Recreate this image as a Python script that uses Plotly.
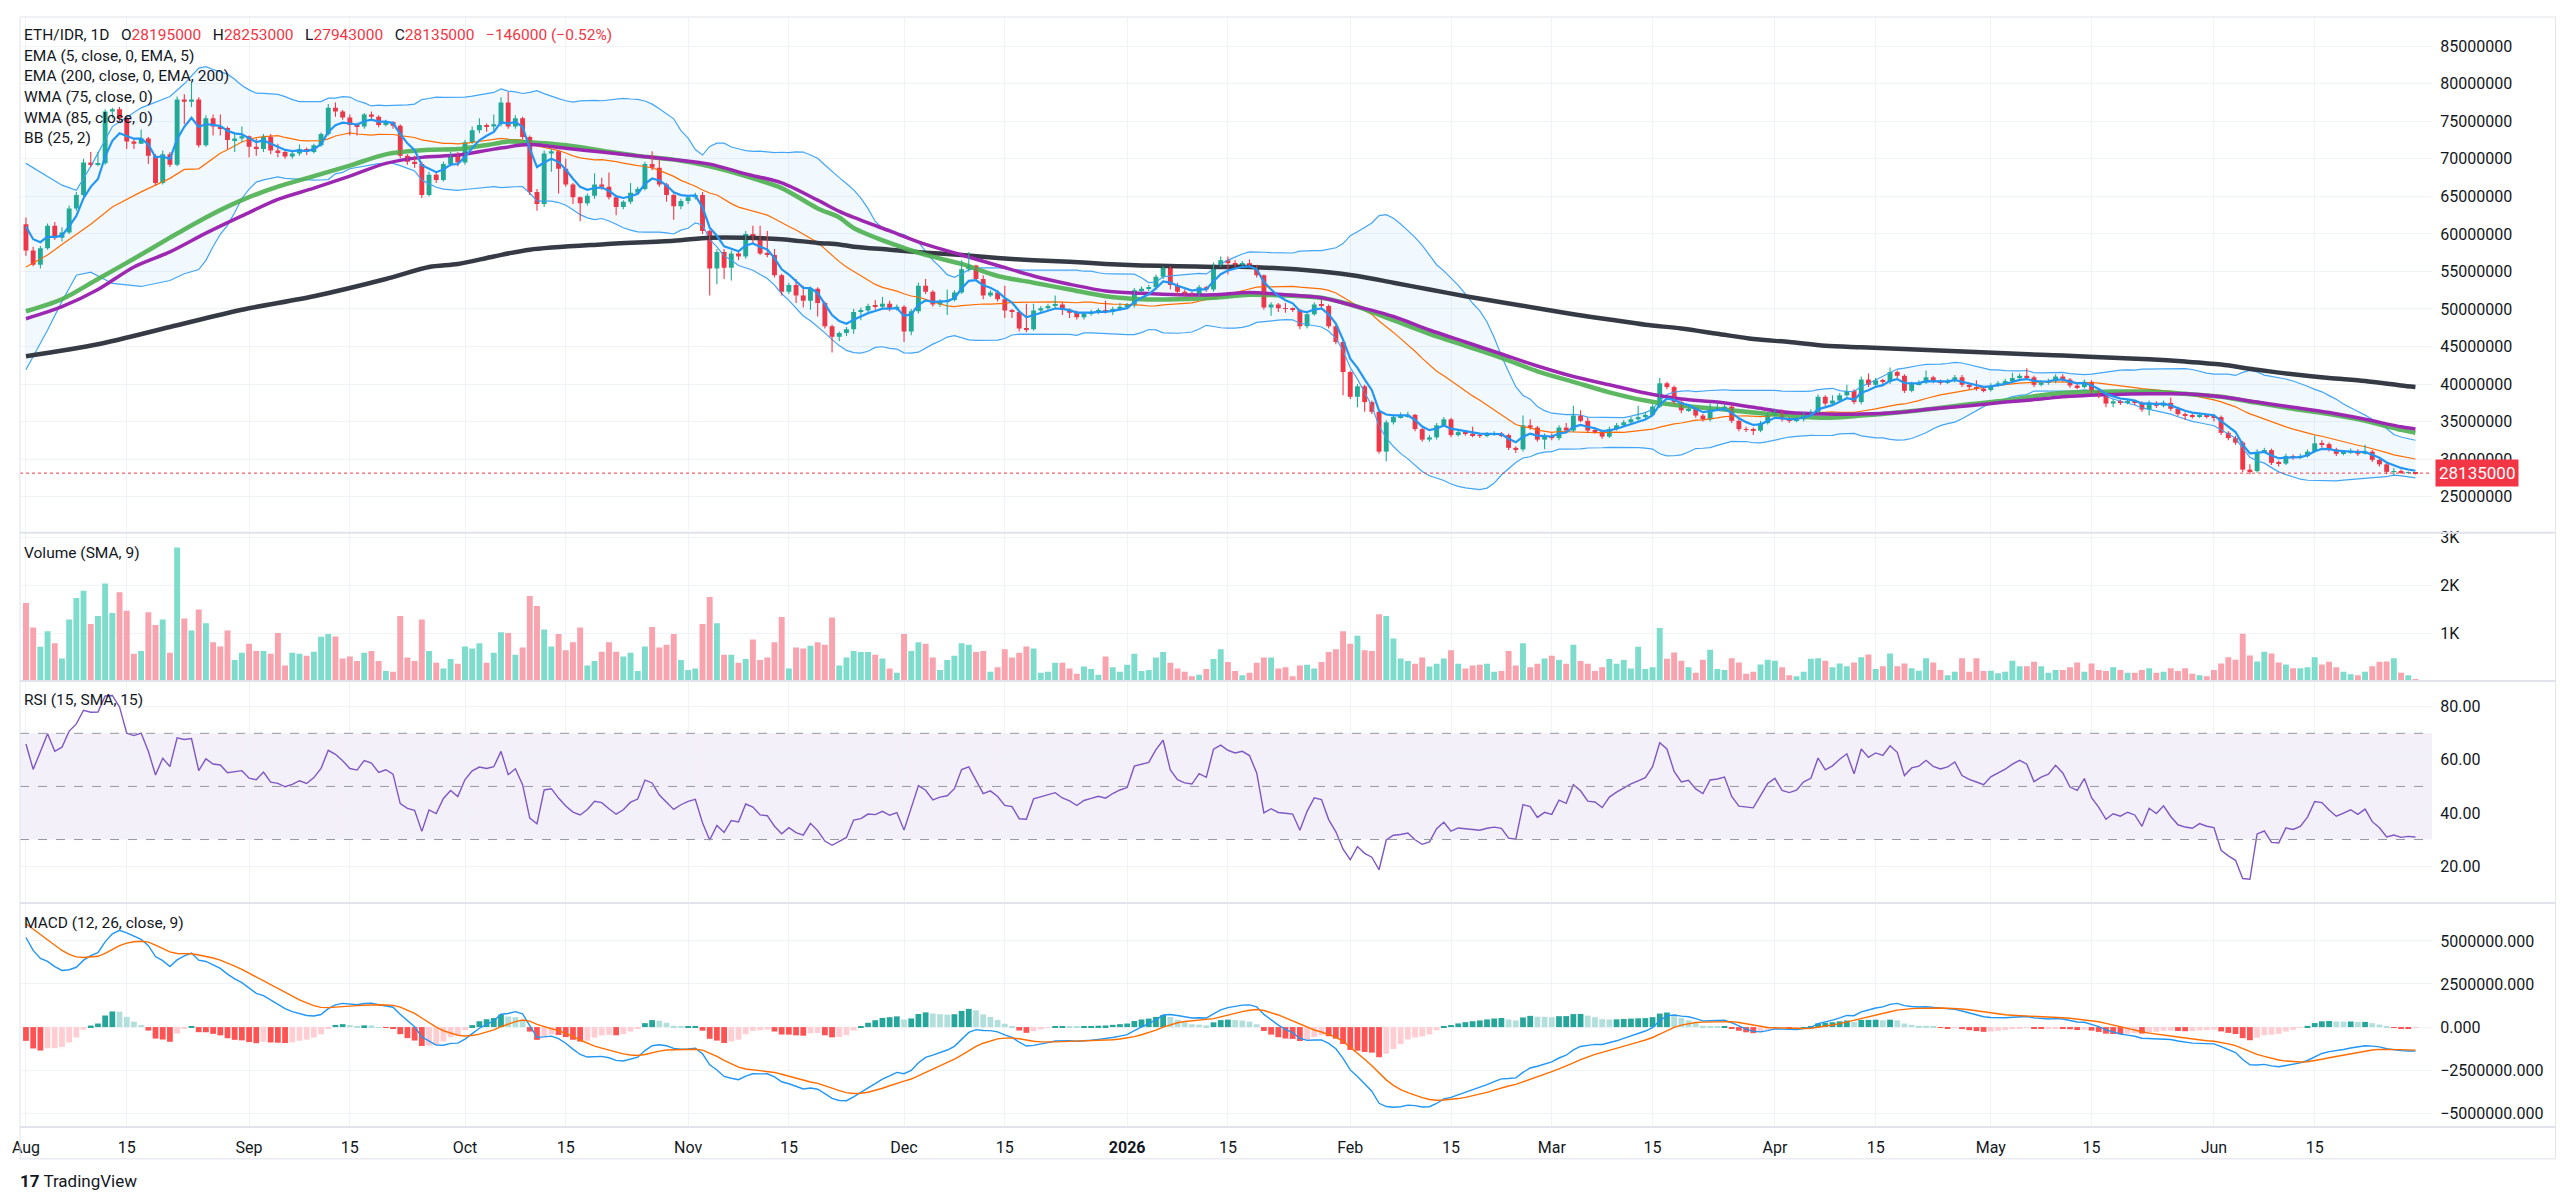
import numpy as np
import pandas as pd
import plotly.graph_objects as go
from plotly.subplots import make_subplots

# ---------------- data (prices in millions of IDR) ----------------
START_DATE = "2025-08-01"
OPEN0_M = 61.3

CLOSE_M = [
    57.8, 55.9, 58.1, 61.1, 59.5, 60.2, 63.4, 65.2, 69.5, 69.3,
    69.4, 76.3, 76.6, 75.4, 72.3, 72.0, 72.7, 70.4, 66.8, 70.6,
    69.2, 77.9, 77.6, 77.9, 71.8, 75.4, 74.3, 74.1, 72.5, 72.7,
    73.0, 71.6, 71.3, 72.9, 71.1, 70.9, 70.3, 70.7, 71.3, 70.9,
    71.8, 73.3, 76.8, 76.3, 75.5, 74.5, 74.3, 75.9, 75.6, 74.5,
    74.9, 74.4, 70.4, 69.6, 69.3, 65.2, 67.9, 67.2, 69.3, 70.5,
    69.5, 72.2, 73.8, 74.5, 74.3, 74.6, 77.5, 74.3, 75.4, 72.9,
    65.6, 64.0, 70.7, 71.0, 68.7, 66.6, 64.9, 64.1, 65.1, 66.6,
    66.3, 64.9, 63.6, 64.3, 65.5, 66.0, 69.3, 68.8, 66.6, 65.2,
    63.7, 64.4, 64.9, 65.2, 60.4, 55.4, 57.6, 55.5, 57.4, 57.0,
    60.0, 59.3, 57.4, 57.2, 54.5, 52.3, 53.2, 51.8, 51.1, 52.7,
    50.8, 47.7, 46.3, 46.8, 47.3, 49.6, 49.8, 50.4, 50.3, 50.7,
    50.0, 50.3, 47.0, 49.7, 53.1, 52.3, 50.6, 51.0, 51.2, 52.2,
    55.3, 55.8, 54.0, 51.8, 52.2, 51.3, 49.8, 49.6, 47.4, 47.3,
    49.8, 50.1, 50.4, 50.6, 49.9, 49.5, 48.9, 49.4, 49.6, 49.8,
    49.6, 50.0, 50.3, 50.5, 52.5, 52.7, 52.9, 54.3, 55.5, 53.2,
    52.3, 52.0, 51.9, 52.9, 52.6, 55.9, 56.5, 56.1, 55.9, 56.1,
    55.8, 54.5, 50.2, 50.6, 50.1, 50.0, 49.9, 47.7, 49.3, 50.6,
    50.4, 47.7, 45.6, 41.6, 38.3, 39.7, 37.6, 36.3, 31.0, 34.9,
    35.6, 35.7, 35.9, 34.0, 32.6, 32.9, 34.5, 35.3, 33.2, 33.6,
    33.4, 33.2, 33.1, 33.3, 33.4, 33.2, 31.5, 31.3, 34.5, 34.2,
    32.6, 33.1, 32.8, 34.2, 33.8, 35.8, 35.1, 33.8, 33.7, 33.0,
    34.0, 34.5, 34.9, 35.3, 35.6, 35.9, 37.0, 40.1, 39.6, 37.6,
    36.5, 36.7, 35.8, 35.3, 36.7, 36.8, 37.0, 35.1, 34.0, 33.9,
    33.8, 34.8, 35.9, 36.4, 35.3, 35.1, 35.3, 36.0, 36.3, 38.3,
    37.4, 37.8, 38.5, 39.1, 37.6, 40.6, 39.9, 40.5, 40.3, 41.6,
    41.1, 39.1, 40.0, 40.2, 40.9, 40.4, 40.2, 40.4, 40.9, 39.9,
    39.6, 39.4, 39.2, 39.8, 40.1, 40.4, 40.8, 41.1, 40.9, 39.9,
    40.2, 40.4, 41.0, 40.6, 39.8, 39.6, 40.3, 39.1, 38.4, 37.4,
    37.7, 37.5, 37.7, 37.5, 36.6, 37.5, 37.1, 37.5, 36.7, 36.0,
    35.8, 35.7, 35.9, 35.7, 35.6, 33.5, 32.8, 32.2, 28.6, 28.4,
    31.0, 31.2, 29.5, 29.4, 30.4, 30.2, 30.4, 31.0, 32.1, 32.0,
    31.3, 30.7, 30.9, 31.1, 30.7, 31.0, 29.9, 29.3, 28.3, 28.4,
    28.15, 28.195, 28.135,
]

HIGH_M = [
    62.2, 58.3, 58.4, 61.4, 61.6, 60.9, 63.8, 65.6, 70.0, 70.9,
    70.9, 76.6, 76.8, 76.9, 75.6, 72.7, 73.9, 72.9, 70.6, 71.1,
    70.9, 78.3, 78.6, 80.2, 78.2, 75.8, 75.9, 75.9, 74.3, 73.3,
    74.3, 73.1, 72.7, 73.3, 73.3, 72.0, 71.1, 70.9, 71.9, 71.5,
    72.0, 73.5, 77.3, 77.5, 76.5, 75.9, 74.8, 76.1, 76.3, 75.8,
    75.2, 75.0, 74.6, 70.6, 70.4, 69.6, 68.3, 68.3, 69.6, 70.9,
    70.9, 72.5, 74.3, 75.4, 74.7, 75.9, 78.2, 78.9, 75.8, 75.6,
    73.1, 66.0, 71.1, 71.3, 71.1, 70.0, 66.8, 65.0, 65.4, 68.1,
    67.5, 68.2, 64.9, 64.5, 66.8, 66.3, 69.6, 71.0, 69.8, 66.8,
    65.4, 64.7, 65.2, 65.5, 65.6, 60.6, 58.0, 58.0, 57.8, 57.8,
    60.4, 61.1, 61.1, 60.4, 58.0, 54.7, 53.5, 54.0, 53.1, 53.0,
    52.9, 51.0, 47.9, 47.0, 47.6, 50.0, 50.2, 50.7, 51.2, 51.6,
    51.1, 50.6, 50.5, 50.0, 53.5, 54.0, 52.5, 51.3, 52.6, 52.5,
    56.5, 57.6, 55.9, 54.5, 52.5, 52.5, 53.1, 50.0, 49.8, 50.7,
    50.7, 50.4, 50.7, 51.8, 50.9, 50.1, 49.8, 49.6, 49.9, 50.1,
    51.1, 50.3, 50.8, 50.8, 52.8, 53.0, 53.2, 54.6, 55.7, 55.7,
    53.5, 52.6, 52.3, 53.2, 53.1, 56.2, 57.0, 57.0, 56.5, 56.4,
    56.6, 55.9, 54.6, 50.9, 50.8, 50.8, 50.2, 50.0, 49.6, 50.9,
    51.2, 50.6, 47.9, 45.8, 41.8, 40.0, 39.9, 37.8, 36.5, 35.2,
    35.9, 36.2, 36.3, 36.0, 34.2, 33.2, 34.8, 35.6, 35.5, 33.9,
    33.8, 34.3, 33.4, 33.6, 33.7, 33.6, 33.4, 31.7, 35.8, 35.3,
    34.4, 33.4, 33.4, 34.5, 34.8, 37.1, 36.5, 35.5, 34.0, 33.9,
    34.3, 34.8, 35.2, 35.6, 37.1, 36.3, 37.3, 40.8, 40.3, 39.8,
    37.8, 37.0, 36.9, 36.0, 37.4, 37.4, 37.3, 37.2, 35.3, 34.3,
    34.2, 35.1, 36.2, 36.7, 36.6, 35.6, 35.6, 36.3, 36.6, 38.6,
    38.5, 38.5, 38.8, 39.9, 39.3, 41.0, 41.4, 40.8, 40.7, 42.2,
    41.8, 41.3, 40.3, 40.5, 41.8, 41.1, 40.6, 40.7, 41.2, 41.2,
    40.1, 40.5, 39.6, 40.1, 40.4, 40.7, 41.5, 41.4, 42.1, 41.1,
    40.5, 40.7, 41.3, 41.3, 40.8, 40.0, 40.6, 40.5, 39.3, 38.6,
    38.0, 37.9, 38.0, 37.9, 37.7, 37.8, 37.7, 37.8, 38.2, 36.9,
    36.2, 36.0, 36.2, 36.0, 36.0, 35.8, 33.7, 33.1, 32.4, 29.3,
    31.3, 31.5, 31.4, 29.8, 30.7, 30.6, 30.7, 31.3, 33.1, 32.5,
    32.2, 31.5, 31.2, 31.4, 31.3, 31.9, 31.2, 30.0, 29.5, 28.8,
    28.6, 28.35, 28.253,
]

LOW_M = [
    57.1, 55.7, 55.4, 57.9, 59.2, 59.0, 60.0, 63.1, 65.0, 68.9,
    69.0, 69.2, 75.4, 75.0, 71.3, 71.3, 72.0, 69.3, 66.5, 66.6,
    68.9, 69.0, 74.6, 76.9, 71.5, 71.6, 73.1, 73.1, 71.3, 70.9,
    72.2, 70.2, 70.4, 70.9, 70.6, 70.2, 70.0, 70.0, 70.4, 70.5,
    70.7, 71.6, 73.1, 75.6, 75.2, 73.1, 73.1, 74.0, 75.2, 74.2,
    74.3, 74.0, 70.1, 69.2, 68.8, 64.8, 65.0, 66.8, 67.0, 69.0,
    69.0, 69.2, 72.0, 73.4, 73.6, 73.6, 74.3, 74.0, 74.0, 72.6,
    65.2, 63.1, 63.6, 68.3, 65.4, 66.3, 64.0, 61.7, 63.8, 64.7,
    65.9, 64.6, 62.5, 63.3, 64.0, 65.2, 65.8, 68.5, 66.3, 64.3,
    61.9, 63.3, 64.0, 64.6, 60.0, 51.8, 53.3, 54.0, 53.8, 56.5,
    56.7, 58.8, 57.2, 56.9, 54.2, 51.8, 52.0, 50.8, 50.2, 49.9,
    49.0, 47.4, 44.2, 45.7, 46.4, 46.7, 48.5, 49.5, 49.9, 50.1,
    49.7, 49.8, 45.6, 46.5, 49.4, 52.0, 50.3, 50.3, 49.2, 51.0,
    52.0, 55.0, 53.8, 51.3, 51.6, 51.0, 48.8, 48.8, 47.0, 46.9,
    47.1, 49.5, 49.9, 50.1, 49.2, 48.8, 48.6, 48.6, 49.1, 49.3,
    49.4, 49.2, 49.8, 50.0, 50.2, 52.2, 52.4, 52.6, 54.0, 52.6,
    51.8, 51.7, 51.6, 51.7, 52.3, 52.3, 55.6, 54.6, 55.5, 55.7,
    55.5, 54.2, 49.9, 49.1, 49.6, 49.5, 49.6, 47.3, 47.4, 49.1,
    50.1, 47.4, 45.3, 38.5, 38.0, 36.9, 36.3, 36.0, 30.7, 29.7,
    34.6, 35.4, 35.5, 33.7, 32.3, 32.3, 32.6, 34.3, 32.9, 33.0,
    33.1, 32.9, 32.8, 32.9, 33.1, 32.9, 31.2, 30.8, 31.0, 33.9,
    32.3, 31.3, 32.5, 32.5, 33.5, 33.6, 34.9, 33.5, 33.4, 32.7,
    32.8, 33.8, 34.3, 34.7, 35.1, 35.4, 35.7, 36.8, 39.3, 37.3,
    36.1, 36.3, 35.5, 35.0, 35.0, 36.4, 36.5, 34.8, 33.7, 33.6,
    33.2, 33.6, 34.6, 35.7, 35.0, 34.8, 34.9, 35.0, 35.8, 36.1,
    37.1, 37.3, 37.6, 38.3, 37.3, 37.3, 39.6, 39.6, 39.7, 40.0,
    40.8, 38.8, 38.9, 39.8, 40.0, 40.1, 39.9, 40.0, 40.2, 39.6,
    39.3, 39.1, 38.9, 39.0, 39.6, 39.9, 40.2, 40.6, 40.6, 39.6,
    39.7, 39.9, 40.1, 40.3, 39.5, 39.3, 39.4, 38.8, 38.1, 36.9,
    36.9, 37.2, 37.3, 37.2, 36.3, 35.8, 36.8, 36.9, 36.4, 35.7,
    35.2, 35.4, 35.5, 35.4, 35.0, 33.2, 32.5, 31.9, 28.3, 28.0,
    28.2, 30.8, 29.2, 29.0, 29.2, 29.9, 30.0, 30.2, 30.8, 31.5,
    31.0, 30.4, 30.5, 30.7, 30.4, 30.6, 29.6, 29.0, 28.0, 27.8,
    28.05, 28.05, 27.943,
]

VOLUME = [
    1631, 1118, 715, 1041, 791, 472, 1284, 1735, 1888, 1194,
    1360, 2040, 1423, 1853, 1471, 569, 625, 1437, 1173, 1284,
    590, 2790, 1305, 1055, 1492, 1208, 812, 722, 1055, 437,
    590, 778, 625, 625, 569, 1006, 326, 590, 569, 527,
    611, 923, 985, 930, 472, 514, 416, 590, 625, 416,
    208, 194, 1360, 493, 416, 1284, 625, 382, 264, 458,
    361, 722, 680, 791, 382, 590, 1020, 1006, 548, 701,
    1777, 1568, 1076, 722, 985, 645, 812, 1118, 326, 416,
    611, 812, 611, 514, 590, 208, 722, 1131, 701, 756,
    985, 437, 229, 264, 1194, 1756, 1208, 548, 548, 382,
    458, 868, 437, 493, 812, 1339, 264, 701, 680, 736,
    812, 756, 1326, 326, 493, 625, 604, 604, 548, 472,
    264, 174, 985, 625, 812, 778, 493, 229, 437, 527,
    791, 756, 604, 625, 194, 285, 666, 493, 590, 722,
    680, 174, 194, 382, 382, 264, 153, 305, 250, 132,
    514, 285, 194, 340, 569, 208, 229, 493, 604, 382,
    264, 194, 97, 132, 250, 458, 666, 396, 208, 118,
    174, 382, 493, 493, 264, 285, 97, 326, 340, 264,
    396, 604, 666, 1041, 778, 944, 645, 625, 1395, 1360,
    888, 472, 416, 361, 493, 305, 361, 472, 645, 361,
    264, 326, 340, 361, 194, 208, 625, 326, 791, 285,
    361, 472, 527, 437, 361, 756, 416, 361, 208, 285,
    458, 361, 437, 264, 715, 250, 285, 1110, 463, 596,
    421, 288, 175, 442, 652, 252, 231, 477, 386, 154,
    196, 344, 442, 421, 288, 119, 98, 196, 463, 477,
    421, 288, 365, 308, 386, 498, 554, 252, 308, 575,
    308, 365, 266, 217, 477, 386, 231, 119, 196, 477,
    196, 477, 210, 217, 161, 196, 421, 308, 308, 400,
    308, 175, 231, 231, 288, 386, 196, 365, 231, 210,
    288, 231, 175, 175, 231, 266, 175, 196, 266, 210,
    266, 154, 119, 98, 231, 365, 498, 442, 988, 533,
    407, 610, 575, 386, 344, 266, 266, 288, 498, 344,
    400, 288, 196, 140, 119, 196, 308, 400, 407, 477,
    175, 119, 42,
]

# slow moving averages (day index from START_DATE, value in millions)
EMA200_DAYS = [0, 10, 20, 30, 40, 50, 56, 60, 65, 70, 80, 90, 95, 100, 105, 110, 113, 115, 120, 125,
               130, 135, 140, 145, 150, 155, 160, 165, 170, 180, 185, 190, 195, 200, 205, 210, 215, 220,
               225, 230, 235, 240, 245, 250, 255, 260, 265, 270, 275, 280, 283, 290, 295, 300, 305, 310,
               315, 320, 325, 330, 332]
EMA200_M = [43.7, 45.3, 47.6, 49.9, 51.7, 54.0, 55.6, 56.0, 57.0, 57.9, 58.6, 59.1, 59.5, 59.5, 59.3,
            58.8, 58.6, 58.3, 57.9, 57.5, 57.2, 56.8, 56.5, 56.3, 56.0, 55.8, 55.7, 55.6, 55.6, 55.0,
            54.4, 53.5, 52.6, 51.7, 50.9, 50.1, 49.3, 48.6, 47.9, 47.4, 46.7, 46.0, 45.6, 45.1, 44.9,
            44.7, 44.5, 44.3, 44.1, 43.9, 43.8, 43.5, 43.3, 43.0, 42.6, 41.9, 41.3, 40.8, 40.4, 39.8, 39.6]

WMA75_DAYS = [0, 5, 10, 15, 20, 25, 30, 35, 40, 45, 50, 56, 60, 65, 67, 70, 75, 80, 85, 90, 95, 100,
              105, 110, 113, 115, 120, 125, 130, 135, 140, 145, 150, 155, 160, 165, 170, 175, 180, 185,
              190, 195, 200, 205, 210, 215, 220, 225, 230, 235, 240, 245, 250, 255, 260, 265, 270, 275,
              280, 283, 290, 295, 300, 305, 310, 315, 320, 325, 330, 332]
WMA75_M = [49.7, 51.3, 54.0, 56.7, 59.5, 62.2, 64.5, 66.3, 67.7, 69.1, 70.6, 71.2, 71.3, 72.0, 72.3,
           72.2, 71.8, 71.1, 70.4, 69.9, 69.0, 67.7, 66.1, 63.4, 62.2, 60.8, 58.8, 57.2, 56.0, 54.4,
           53.5, 52.6, 51.7, 51.3, 51.3, 51.5, 51.9, 51.8, 51.5, 50.3, 48.5, 46.7, 45.1, 43.5, 41.7,
           40.3, 38.9, 37.8, 37.1, 36.7, 36.2, 35.8, 35.5, 35.8, 36.2, 36.7, 37.3, 37.8, 38.5, 38.8,
           39.0, 39.0, 38.7, 38.3, 37.5, 36.7, 36.0, 35.1, 33.9, 33.5]

WMA85_DAYS = [0, 5, 10, 15, 20, 25, 30, 35, 40, 45, 50, 55, 60, 65, 70, 75, 80, 85, 90, 95, 100, 105,
              110, 113, 115, 120, 125, 130, 135, 140, 145, 150, 155, 160, 165, 170, 175, 180, 185, 190,
              195, 200, 205, 210, 215, 220, 225, 230, 235, 240, 245, 250, 255, 260, 265, 270, 275, 280,
              283, 290, 295, 300, 305, 310, 315, 320, 325, 330, 332]
WMA85_M = [48.7, 50.3, 52.6, 55.6, 57.6, 60.1, 62.4, 64.6, 66.1, 67.7, 69.4, 70.2, 70.5, 71.3, 71.9,
           71.4, 70.9, 70.4, 69.9, 69.3, 68.0, 66.8, 64.5, 63.0, 62.2, 60.4, 58.6, 57.2, 55.8, 54.4,
           53.3, 52.4, 52.1, 51.9, 51.9, 52.2, 51.9, 51.5, 50.3, 49.0, 47.2, 45.6, 44.0, 42.4, 41.0,
           39.9, 38.8, 38.0, 37.6, 36.9, 36.2, 36.0, 36.0, 36.2, 36.7, 37.1, 37.6, 38.0, 38.3, 38.6,
           38.7, 38.7, 38.3, 37.6, 36.9, 36.2, 35.3, 34.3, 34.0]

# Bollinger values for the first days (before 25 visible closes exist)
BB_EARLY_DAYS = [0, 3, 5, 7, 9, 12, 16, 20, 22]
BB_EARLY_UPPER_M = [69.4, 67.7, 66.5, 65.8, 69.0, 74.3, 76.8, 78.3, 80.0]
BB_EARLY_LOWER_M = [41.9, 47.2, 51.0, 54.5, 54.9, 53.4, 53.0, 53.8, 54.7]
BB_EARLY_BASIS_M = [55.6, 57.2, 58.6, 60.0, 61.3, 63.6, 65.6, 67.4, 68.6]

# indicator states at the first visible day
EMA5_START_M = 61.0
EMA12_START_M = 60.5
MACD_START = 5.2e6
SIGNAL_START = 6.0e6
RSI_START = 66.0
RSI_AVG_MOVE0 = 0.8e6

# header values (last bar)
HDR_O, HDR_H, HDR_L, HDR_C = "28195000", "28253000", "27943000", "28135000"
HDR_CHG = "\u2212146000 (\u22120.52%)"

PRICE_TICKS = [25e6, 30e6, 35e6, 40e6, 45e6, 50e6, 55e6, 60e6, 65e6, 70e6, 75e6, 80e6, 85e6]
VOL_TICKS = [1000, 2000, 3000]
VOL_TICKTEXT = ["1K", "2K", "3K"]
RSI_TICKS = [20, 40, 60, 80]
MACD_TICKS = [-5e6, -2.5e6, 0, 2.5e6, 5e6]
MACD_TICKTEXT = ["\u22125000000.000", "\u22122500000.000", "0.000", "2500000.000", "5000000.000"]
X_TICK_DATES = ["2025-08-01", "2025-08-15", "2025-09-01", "2025-09-15", "2025-10-01", "2025-10-15",
                "2025-11-01", "2025-11-15", "2025-12-01", "2025-12-15", "2026-01-01", "2026-01-15",
                "2026-02-01", "2026-02-15", "2026-03-01", "2026-03-15", "2026-04-01", "2026-04-15",
                "2026-05-01", "2026-05-15", "2026-06-01", "2026-06-15"]
X_TICK_TEXT = ["Aug", "15", "Sep", "15", "Oct", "15", "Nov", "15", "Dec", "15", "<b>2026</b>", "15",
               "Feb", "15", "Mar", "15", "Apr", "15", "May", "15", "Jun", "15"]

# ---------------- derived series ----------------
n = min(len(CLOSE_M), len(HIGH_M), len(LOW_M), len(VOLUME))
dates = pd.date_range(START_DATE, periods=n, freq="D")
close = np.array(CLOSE_M[:n]) * 1e6
open_ = np.concatenate([[OPEN0_M * 1e6], close[:-1]])
high = np.maximum.reduce([np.array(HIGH_M[:n]) * 1e6, open_, close])
low = np.minimum.reduce([np.array(LOW_M[:n]) * 1e6, open_, close])
vol = np.array(VOLUME[:n], dtype=float)
up = close >= open_

ema5 = np.empty(n)
ema5[0] = EMA5_START_M * 1e6
for i in range(1, n):
    ema5[i] = ema5[i - 1] + (2 / 6) * (close[i] - ema5[i - 1])

s = pd.Series(close)
mid = s.rolling(25).mean().values
sd = s.rolling(25).std(ddof=0).values
bb_days = BB_EARLY_DAYS + list(range(24, n))
bb_up = [v * 1e6 for v in BB_EARLY_UPPER_M] + list(mid[24:] + 2 * sd[24:])
bb_lo = [v * 1e6 for v in BB_EARLY_LOWER_M] + list(mid[24:] - 2 * sd[24:])
bb_mid = [v * 1e6 for v in BB_EARLY_BASIS_M] + list(mid[24:])
bb_dates = dates[bb_days]

# RSI 15 (Wilder)
g = RSI_START / 100 * RSI_AVG_MOVE0
l = (1 - RSI_START / 100) * RSI_AVG_MOVE0
rsi = np.empty(n)
rsi[0] = RSI_START
for i in range(1, n):
    ch = close[i] - close[i - 1]
    g = (g * 14 + max(ch, 0)) / 15
    l = (l * 14 + max(-ch, 0)) / 15
    rsi[i] = 100 * g / (g + l)

# MACD 12/26/9
e12 = EMA12_START_M * 1e6
e26 = e12 - MACD_START
sig = SIGNAL_START
macd = np.empty(n); signal = np.empty(n)
macd[0] = MACD_START; signal[0] = SIGNAL_START
for i in range(1, n):
    e12 += (2 / 13) * (close[i] - e12)
    e26 += (2 / 27) * (close[i] - e26)
    m = e12 - e26
    sig += (2 / 10) * (m - sig)
    macd[i] = m; signal[i] = sig
hist = macd - signal
hcol = []
for i in range(n):
    h = hist[i]; p = hist[i - 1] if i > 0 else h
    if h >= 0:
        hcol.append("#26A69A" if h > p else "#B2DFDB")
    else:
        hcol.append("#FFCDD2" if h > p else "#FF5252")

# ---------------- figure ----------------
UP_C, DN_C = "#22AB94", "#F23645"
DAY_MS = 86400000
FONT = "Roboto, 'Open Sans', sans-serif"
TXT = "#131722"
GRID = "#F0F3FA"

fig = make_subplots(rows=4, cols=1, shared_xaxes=True, vertical_spacing=0)

# Bollinger fill + bands
fig.add_trace(go.Scatter(x=bb_dates, y=bb_up, mode="lines", line=dict(color="#42A5F5", width=1.2),
                         hoverinfo="skip"), row=1, col=1)
fig.add_trace(go.Scatter(x=bb_dates, y=bb_lo, mode="lines", line=dict(color="#42A5F5", width=1.2),
                         fill="tonexty", fillcolor="rgba(33,150,243,0.06)", hoverinfo="skip"), row=1, col=1)
fig.add_trace(go.Scatter(x=bb_dates, y=bb_mid, mode="lines", line=dict(color="#FF6D00", width=1.2),
                         hoverinfo="skip"), row=1, col=1)

fig.add_trace(go.Scatter(x=dates[EMA200_DAYS], y=np.array(EMA200_M) * 1e6, mode="lines",
                         line=dict(color="#363A45", width=4.5, shape="spline", smoothing=0.8),
                         hoverinfo="skip"), row=1, col=1)
fig.add_trace(go.Scatter(x=dates[WMA75_DAYS], y=np.array(WMA75_M) * 1e6, mode="lines",
                         line=dict(color="rgba(76,175,80,0.9)", width=4.5, shape="spline", smoothing=0.8),
                         hoverinfo="skip"), row=1, col=1)
fig.add_trace(go.Scatter(x=dates[WMA85_DAYS], y=np.array(WMA85_M) * 1e6, mode="lines",
                         line=dict(color="#9C27B0", width=3.5, shape="spline", smoothing=0.8),
                         hoverinfo="skip"), row=1, col=1)

# candles: wicks + bodies
for mask, col in ((up, UP_C), (~up, DN_C)):
    wx, wy = [], []
    for i in np.where(mask)[0]:
        wx += [dates[i], dates[i], None]
        wy += [low[i], high[i], None]
    fig.add_trace(go.Scatter(x=wx, y=wy, mode="lines", line=dict(color=col, width=1.1),
                             hoverinfo="skip", connectgaps=False), row=1, col=1)
    idx = np.where(mask)[0]
    base = np.minimum(open_[idx], close[idx])
    hgt = np.maximum(np.abs(close[idx] - open_[idx]), 0.07e6)
    fig.add_trace(go.Bar(x=dates[idx], y=hgt, base=base, width=0.68 * DAY_MS,
                         marker=dict(color=col, line=dict(width=0)), hoverinfo="skip"), row=1, col=1)

fig.add_trace(go.Scatter(x=dates, y=ema5, mode="lines", line=dict(color="#2196F3", width=2.2),
                         hoverinfo="skip"), row=1, col=1)

# volume
fig.add_trace(go.Bar(x=dates, y=vol, width=0.82 * DAY_MS,
                     marker=dict(color=["#7DDCCB" if u else "#F8A3AD" for u in up], line=dict(width=0)),
                     hoverinfo="skip"), row=2, col=1)

# RSI
fig.add_shape(type="rect", xref="x3 domain", x0=0, x1=1, yref="y3", y0=30, y1=70,
              fillcolor="rgba(126,87,194,0.09)", line_width=0, layer="below")
for lv in (70, 50, 30):
    fig.add_shape(type="line", xref="x3 domain", x0=0, x1=1, yref="y3", y0=lv, y1=lv,
                  line=dict(color="#9598A1", width=1, dash="dash"))
fig.add_trace(go.Scatter(x=dates, y=rsi, mode="lines", line=dict(color="#7E57C2", width=1.4),
                         hoverinfo="skip"), row=3, col=1)

# MACD
fig.add_trace(go.Bar(x=dates, y=hist, width=0.8 * DAY_MS, marker=dict(color=hcol, line=dict(width=0)),
                     hoverinfo="skip"), row=4, col=1)
fig.add_trace(go.Scatter(x=dates, y=macd, mode="lines", line=dict(color="#2196F3", width=1.4),
                         hoverinfo="skip"), row=4, col=1)
fig.add_trace(go.Scatter(x=dates, y=signal, mode="lines", line=dict(color="#FF6D00", width=1.4),
                         hoverinfo="skip"), row=4, col=1)

# last price line
fig.add_shape(type="line", xref="x domain", x0=0, x1=1, yref="y", y0=close[-1], y1=close[-1],
              line=dict(color=DN_C, width=1, dash="dot"))

# ---------------- layout ----------------
W, H = 2560, 1202
ML, MR, MT, MB = 12, 128, 12, 75
PW, PH = W - ML - MR, H - MT - MB


def px(xp):
    return (xp - ML) / PW


def py(yp):
    return (H - MB - yp) / PH


x0 = pd.Timestamp(START_DATE) - pd.Timedelta(hours=0.83 * 24)
x1 = pd.Timestamp(START_DATE) + pd.Timedelta(hours=334.3 * 24)

fig.update_layout(
    width=W, height=H, margin=dict(l=ML, r=MR, t=MT, b=MB),
    paper_bgcolor="white", plot_bgcolor="white", showlegend=False, barmode="overlay",
    hovermode=False, font=dict(family=FONT, color=TXT, size=16),
    yaxis=dict(domain=[py(530), 1.0]),
    yaxis2=dict(domain=[py(679), py(530)]),
    yaxis3=dict(domain=[py(902), py(679)]),
    yaxis4=dict(domain=[0.0, py(902)]),
)
fig.update_xaxes(type="date", range=[x0, x1], tickvals=pd.to_datetime(X_TICK_DATES), ticktext=X_TICK_TEXT,
                 showgrid=True, gridcolor=GRID, gridwidth=1, zeroline=False, showline=False,
                 ticks="outside", ticklen=6, tickcolor="rgba(0,0,0,0)", rangeslider_visible=False,
                 tickfont=dict(size=16, color=TXT, family=FONT))
for r in (1, 2, 3):
    fig.update_xaxes(showticklabels=False, row=r, col=1)

yax_common = dict(side="right", showgrid=True, gridcolor=GRID, gridwidth=1, zeroline=False, showline=False,
                  ticks="outside", ticklen=4, tickcolor="rgba(0,0,0,0)",
                  tickfont=dict(size=16, color=TXT, family=FONT), fixedrange=True)
fig.update_yaxes(**yax_common)
fig.update_yaxes(range=[20.2e6, 88.9e6], tickvals=PRICE_TICKS, ticktext=[f"{int(v)}" for v in PRICE_TICKS],
                 row=1, col=1)
fig.update_yaxes(range=[0, 3100], tickvals=VOL_TICKS, ticktext=VOL_TICKTEXT, row=2, col=1)
fig.update_yaxes(range=[6.1, 89.7], tickvals=RSI_TICKS, ticktext=[f"{v:.2f}" for v in RSI_TICKS], row=3, col=1)
fig.update_yaxes(range=[-5.8e6, 7.2e6], tickvals=MACD_TICKS, ticktext=MACD_TICKTEXT, row=4, col=1)

# frame and pane separators
shapes = [dict(type="rect", xref="paper", yref="paper", x0=px(12), x1=px(2556), y0=py(1159), y1=py(12),
               line=dict(color="#E0E3EB", width=1), fillcolor="rgba(0,0,0,0)", layer="above")]
for yp in (530, 679, 902, 1127):
    shapes.append(dict(type="line", xref="paper", yref="paper", x0=px(12), x1=px(2556), y0=py(yp), y1=py(yp),
                       line=dict(color="#E0E3EB", width=2), layer="above"))
for sh in shapes:
    fig.add_shape(**sh)

RED = "#F23645"
def red(t):
    return f"<span style='color:{RED}'>{t}</span>"

gap = "\u00a0" * 3
hdr = (f"ETH/IDR, 1D{gap}O{red(HDR_O)}{gap}H{red(HDR_H)}{gap}L{red(HDR_L)}"
       f"{gap}C{red(HDR_C)}{gap}{red(HDR_CHG)}")
legend_lines = [hdr, "EMA (5, close, 0, EMA, 5)", "EMA (200, close, 0, EMA, 200)", "WMA (75, close, 0)",
                "WMA (85, close, 0)", "BB (25, 2)"]
LX = px(14)
for k, t in enumerate(legend_lines):
    fig.add_annotation(text=t, xref="paper", yref="paper", x=LX, y=py(30 + 20.8 * k), xanchor="left",
                       yanchor="middle", showarrow=False, font=dict(size=15.5, color=TXT, family=FONT))

for t, yp in (("Volume (SMA, 9)", 550), ("RSI (15, SMA, 15)", 698), ("MACD (12, 26, close, 9)", 922)):
    fig.add_annotation(text=t, xref="paper", yref="paper", x=LX, y=py(yp), xanchor="left",
                       yanchor="middle", showarrow=False, font=dict(size=15.5, color=TXT, family=FONT))

# last price label
fig.add_annotation(text=HDR_C, xref="paper", yref="y", x=1.0, y=close[-1], xanchor="left", yanchor="middle",
                   xshift=3, showarrow=False, bgcolor=RED, borderpad=3,
                   font=dict(size=17, color="white", family=FONT))

# TradingView mark
fig.add_annotation(text="<b>17</b> TradingView", xref="paper", yref="paper", x=px(10), y=py(1181),
                   xanchor="left", yanchor="middle", showarrow=False,
                   font=dict(size=17, color=TXT, family=FONT))

fig.write_html("out.html")
